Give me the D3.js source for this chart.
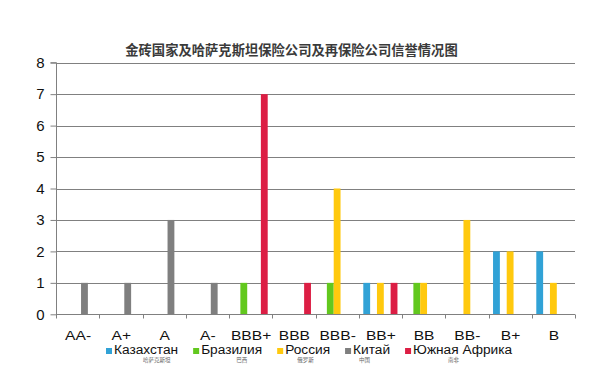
<!DOCTYPE html>
<html><head><meta charset="utf-8">
<script src="https://cdn.jsdelivr.net/npm/d3@7"></script>
<style>body{margin:0;background:#fff}svg{display:block}</style>
</head><body>
<script>
const categories = ["AA-","A+","A","A-","BBB+","BBB","BBB-","BB+","BB","BB-","B+","B"];
const seriesNames = ["Казахстан","Бразилия","Россия","Китай","Южная Африка"];
const seriesNamesZh = ["哈萨克斯坦","巴西","俄罗斯","中国","南非"];
const kazakhstan = [0,0,0,0,0,0,0,1,0,0,2,2];
const brazil     = [0,0,0,0,1,0,1,0,1,0,0,0];
const russia     = [0,0,0,0,0,0,4,1,1,3,2,1];
const china      = [1,1,3,1,0,0,0,0,0,0,0,0];
const southAfrica= [0,0,0,0,7,1,0,1,0,0,0,0];
const yTicks = [0,1,2,3,4,5,6,7,8];
const chartTitle = "金砖国家及哈萨克斯坦保险公司及再保险公司信誉情况图";

const seriesValues = [kazakhstan, brazil, russia, china, southAfrica];
const colors = ["#31A2D6","#62C81E","#FFC90E","#7F7F7F","#DC1E44"];

const W = 608, H = 365;
const svg = d3.select("body").append("svg").attr("width", W).attr("height", H);
const mLeft = 56, mRight = 575, mTop = 62.7, mBottom = 314.3;

const x = d3.scaleBand().domain(categories).range([mLeft, mRight]).padding(0);
const bw = x.bandwidth();
const xi = d3.scaleBand().domain(d3.range(seriesNames.length)).range([bw*0.105, bw*0.895]).padding(0);
const y = d3.scaleLinear().domain([0, 8]).range([mBottom, mTop]);

// gridlines
svg.append("g").selectAll("line").data(yTicks.filter(d=>d>0)).join("line")
  .attr("x1", mLeft).attr("x2", mRight)
  .attr("y1", d=>Math.round(y(d))+0.5).attr("y2", d=>Math.round(y(d))+0.5)
  .attr("stroke", "#808080").attr("stroke-width", 1);

// y axis
const ya = svg.append("g").attr("transform", `translate(${mLeft+0.5},0)`)
  .call(d3.axisLeft(y).tickValues(yTicks).tickSize(6).tickPadding(6).tickFormat(d3.format("d")));
ya.select(".domain").attr("stroke", "#808080").attr("d", `M-6,${mTop}H0V${mBottom}`);
ya.selectAll(".tick line").attr("stroke", "#808080");
ya.selectAll(".tick text").attr("font-family", "Liberation Sans, Arial, sans-serif")
  .attr("font-size", 15).attr("fill", "#111");

// bars
const data = [];
categories.forEach((c, ci) => seriesValues.forEach((s, si) => { if (s[ci] > 0) data.push({c, si, v: s[ci]}); }));
svg.append("g").selectAll("rect").data(data).join("rect")
  .attr("x", d => x(d.c) + xi(d.si))
  .attr("width", xi.bandwidth())
  .attr("y", d => y(d.v))
  .attr("height", d => y(0) - y(d.v))
  .attr("fill", d => colors[d.si]);

// x axis
const xa = svg.append("g").attr("transform", `translate(0,${Math.round(mBottom)+0.5})`);
xa.append("line").attr("x1", mLeft).attr("x2", mRight).attr("stroke", "#808080");
const bounds = categories.map(c => x(c)).concat([mRight]);
xa.selectAll("line.tk").data(bounds).join("line").attr("class","tk")
  .attr("x1", d=>Math.round(d)+0.5).attr("x2", d=>Math.round(d)+0.5).attr("y1", 0).attr("y2", 4)
  .attr("stroke", "#808080");
svg.append("g").selectAll("text").data(categories).join("text")
  .attr("transform", d => `translate(${x(d)+bw/2+0.5},339.5) scale(1.22,1)`)
  .attr("text-anchor", "middle")
  .attr("font-family", "Liberation Sans, Arial, sans-serif").attr("font-size", 12.8)
  .attr("fill", "#111").text(d => d);

// title
svg.append("text").attr("x", 291.5).attr("y", 49).attr("dominant-baseline", "central")
  .attr("text-anchor", "middle").attr("font-family", "Noto Sans CJK SC, sans-serif")
  .attr("font-size", 13.3).attr("font-weight", "bold").attr("fill", "#3a3a3a").text(chartTitle);

// legend
const zhOffsets = [29, 35, 12, 6, 35];
const lg = svg.append("g");
let lx = 106;
seriesNames.forEach((n, i) => {
  lg.append("rect").attr("x", lx).attr("y", 348).attr("width", 6).attr("height", 6).attr("fill", colors[i]);
  const t = lg.append("text").attr("x", lx + 8).attr("y", 354)
    .attr("font-family", "Liberation Sans, Arial, sans-serif").attr("font-size", 13.7)
    .attr("fill", "#111").text(n);
  const w = t.node().getComputedTextLength();
  lg.append("text").attr("x", lx + 8 + zhOffsets[i]).attr("y", 362)
    .attr("font-family", "Noto Sans CJK SC, sans-serif").attr("font-size", 5.5)
    .attr("fill", "#666").text(seriesNamesZh[i]);
  lx = lx + 8 + w + 15;
});
</script>
</body></html>
